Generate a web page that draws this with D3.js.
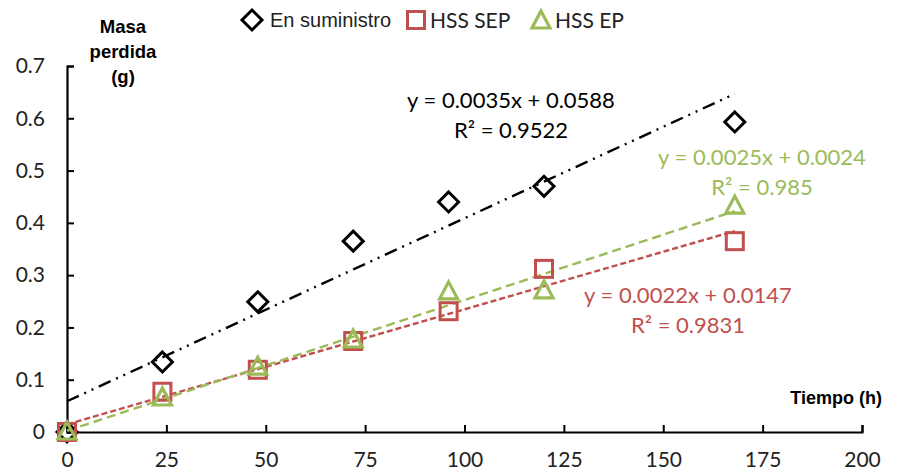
<!DOCTYPE html>
<html>
<head>
<meta charset="utf-8">
<script src="https://cdn.jsdelivr.net/npm/d3@7"></script>
<style>
  html, body { margin: 0; padding: 0; background: #fff; }
  svg { display: block; }
</style>
</head>
<body>
<svg id="chart" width="898" height="474"></svg>
<script>
// Mass loss over time for three sample conditions
const hours = [0, 24, 48, 72, 96, 120, 168];
const enSuministro = [0, 0.134, 0.249, 0.365, 0.440, 0.470, 0.593];
const hssSep = [0, 0.077, 0.119, 0.174, 0.231, 0.312, 0.365];
const hssEp = [0, 0.065, 0.124, 0.176, 0.268, 0.270, 0.432];

// Linear fits (slope, intercept, R²)
const fitEnSuministro = { m: 0.0035, b: 0.0588, r2: "0.9522" };
const fitHssSep = { m: 0.0022, b: 0.0147, r2: "0.9831" };
const fitHssEp = { m: 0.0025, b: 0.0024, r2: "0.985" };

const xTicks = [0, 25, 50, 75, 100, 125, 150, 175, 200];
const yTicks = [0, 0.1, 0.2, 0.3, 0.4, 0.5, 0.6, 0.7];

const svg = d3.select("#chart");
const x = d3.scaleLinear().domain([0, 200]).range([67, 862]);
const y = d3.scaleLinear().domain([0, 0.7]).range([432, 66]);

const numFont = "Lato, 'Open Sans', sans-serif";
const titleFont = "'Liberation Sans', Arial, sans-serif";
const RED = "#C0504D", GREEN = "#9BBB59";

// Axes with inward ticks
const xAxis = svg.append("g").attr("transform", `translate(0,${y(0)})`)
  .call(d3.axisBottom(x).tickValues(xTicks).tickSize(-7).tickPadding(20).tickFormat(d3.format("d")));
const yAxis = svg.append("g").attr("transform", `translate(${x(0)},0)`)
  .call(d3.axisLeft(y).tickValues(yTicks).tickSize(-7).tickPadding(22).tickFormat(d => d === 0 ? "0" : d3.format(".1f")(d)));
[xAxis, yAxis].forEach(g => {
  g.select(".domain").attr("stroke", "#000").attr("stroke-width", 2.2);
  g.selectAll(".tick line").attr("stroke", "#000").attr("stroke-width", 2);
  g.selectAll(".tick text").attr("fill", "#222").style("font-family", numFont).style("font-size", "21px");
});

// Trend lines over the data span
const trend = (fit, color, dash) => {
  svg.append("line")
    .attr("x1", x(0)).attr("y1", y(fit.b))
    .attr("x2", x(168)).attr("y2", y(fit.m * 168 + fit.b))
    .attr("stroke", color).attr("stroke-width", 2.4)
    .attr("stroke-dasharray", dash);
};
trend(fitEnSuministro, "#000", "13 6 2 6 2 6");
trend(fitHssSep, RED, "6 3");
trend(fitHssEp, GREEN, "9 5");

// Markers
const diamond = (g, cx, cy) => g.append("path")
  .attr("d", `M${cx},${cy - 10}L${cx + 10},${cy}L${cx},${cy + 10}L${cx - 10},${cy}Z`)
  .attr("fill", "none").attr("stroke", "#000").attr("stroke-width", 3);
const square = (g, cx, cy) => g.append("rect")
  .attr("x", cx - 8.5).attr("y", cy - 8.5).attr("width", 17).attr("height", 17)
  .attr("fill", "none").attr("stroke", RED).attr("stroke-width", 3);
const triangle = (g, cx, cy) => g.append("path")
  .attr("d", `M${cx},${cy - 10}L${cx + 9},${cy + 7}L${cx - 9},${cy + 7}Z`)
  .attr("fill", "none").attr("stroke", GREEN).attr("stroke-width", 3.2).attr("stroke-linejoin", "miter");

const marks = svg.append("g");
hours.forEach((h, i) => diamond(marks, x(h), y(enSuministro[i])));
hours.forEach((h, i) => square(marks, x(h), y(hssSep[i])));
hours.forEach((h, i) => triangle(marks, x(h), y(hssEp[i])));

// Equation labels
const eqFmt = fit => `y = ${fit.m}x + ${fit.b}`;
const eqLabel = (fit, cx, cy, color) => {
  const t = svg.append("text").attr("text-anchor", "middle")
    .style("font-family", numFont).style("font-size", "22px").attr("fill", color);
  t.append("tspan").attr("x", cx).attr("y", cy).text(eqFmt(fit));
  t.append("tspan").attr("x", cx).attr("y", cy + 30).text(`R² = ${fit.r2}`);
};
eqLabel(fitEnSuministro, 511, 108, "#000");
eqLabel(fitHssEp, 762, 165, GREEN);
eqLabel(fitHssSep, 688, 303, RED);

// Axis titles
const yTitle = svg.append("text").attr("text-anchor", "middle")
  .style("font-family", titleFont).style("font-weight", "bold")
  .style("font-size", "18.5px").attr("fill", "#000");
["Masa", "perdida", "(g)"].forEach((s, i) =>
  yTitle.append("tspan").attr("x", 123).attr("y", 33 + i * 25).text(s));
svg.append("text").attr("x", 882).attr("y", 404).attr("text-anchor", "end")
  .style("font-family", titleFont).style("font-weight", "bold")
  .style("font-size", "18px").attr("fill", "#000").text("Tiempo (h)");

// Legend
const legend = svg.append("g");
diamond(legend, 252, 20);
legend.append("text").attr("x", 270).attr("y", 27)
  .style("font-family", titleFont).style("font-size", "20px")
  .attr("fill", "#222").text("En suministro");
square(legend, 416, 20);
legend.append("text").attr("x", 430).attr("y", 28)
  .style("font-family", numFont).style("font-size", "21px").attr("fill", "#222").text("HSS SEP");
triangle(legend, 541, 21);
legend.append("text").attr("x", 555).attr("y", 28)
  .style("font-family", numFont).style("font-size", "21px").attr("fill", "#222").text("HSS EP");
</script>
</body>
</html>
